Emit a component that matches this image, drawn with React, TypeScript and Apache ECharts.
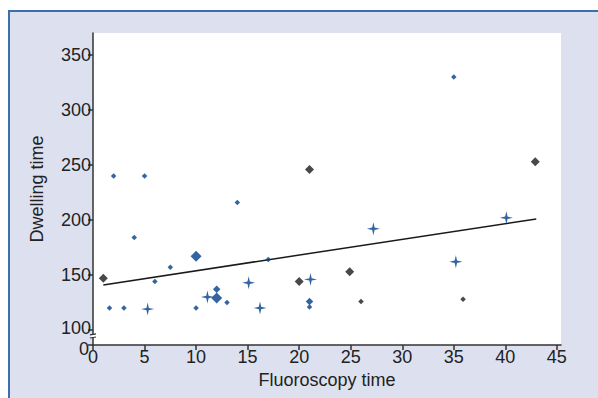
import React, { useEffect, useRef } from "react";
import * as echarts from "echarts";

const xTicks = [0, 5, 10, 15, 20, 25, 30, 35, 40, 45];
const yTicks = [100, 150, 200, 250, 300, 350];
const yBreakBase = 86.36; // drawn as "0" below the axis break
const yBreakLabels = [yBreakBase];
const yMax = 370;
const xMax = 45.4;

const blueSmall: [number, number][] = [
  [1.6, 120], [3, 120], [2, 240], [5, 240], [4, 184], [6, 144], [7.5, 157],
  [10, 120], [13, 125], [14, 216], [17, 164], [35, 330], [21, 121],
];
const blueMedium: [number, number][] = [[12, 137], [21, 126]];
const blueLarge: [number, number][] = [[10, 167], [12, 129]];
const blueCross: [number, number][] = [
  [5.3, 119], [11.1, 130], [15.1, 143], [16.2, 120], [21.1, 146],
  [27.2, 192], [35.2, 162], [40.1, 202],
];
const blackLarge: [number, number][] = [[1, 147], [20, 144], [21, 246], [24.9, 153], [42.9, 253]];
const blackSmall: [number, number][] = [[26, 126], [35.9, 128]];
const regression: [number, number][] = [[1, 141], [43, 201]];

const BLUE = "#003f8c";
const BLACK = "#1a1a1a";
const FONT = "'Liberation Sans', Arial, Helvetica, sans-serif";
const CROSS = "path://M0,-6 L1.1,-1.1 L6,0 L1.1,1.1 L0,6 L-1.1,1.1 L-6,0 L-1.1,-1.1 Z";

export default function App() {
  const ref = useRef<HTMLDivElement>(null);
  useEffect(() => {
    if (!ref.current) return;
    const chart = echarts.init(ref.current, undefined, { renderer: "svg" });
    const axisLine = { show: true, lineStyle: { color: "#333", width: 1.5 } };
    const tickStyle = { color: "#333", width: 1.5 };
    const labelBase = {
      fontFamily: FONT, fontSize: 18, color: "#222",
      interval: 0, hideOverlap: false, showMinLabel: true, showMaxLabel: true,
    };
    const richText = { fontFamily: FONT, fontSize: 18, color: "#222" };
    const scatter = (data: [number, number][], color: string, symbol: string, size: number) => ({
      type: "scatter",
      data,
      symbol,
      symbolSize: size,
      itemStyle: { color },
      z: 3,
    });
    chart.setOption({
      animation: false,
      grid: {
        left: 93, right: 37, top: 33, bottom: 53,
        show: true, backgroundColor: "#ffffff", borderWidth: 0,
      },
      xAxis: {
        type: "value",
        min: 0,
        max: xMax,
        name: "Fluoroscopy time",
        nameLocation: "middle",
        nameGap: 24,
        nameTextStyle: { fontFamily: FONT, fontSize: 18, color: "#222" },
        axisLine,
        splitLine: { show: false },
        axisTick: { show: true, length: 5, customValues: xTicks, lineStyle: tickStyle },
        axisLabel: { ...labelBase, customValues: xTicks, margin: 3 },
      },
      yAxis: [
        {
          type: "value",
          min: yBreakBase,
          max: yMax,
          name: "Dwelling time",
          nameLocation: "middle",
          nameGap: 47,
          nameTextStyle: { fontFamily: FONT, fontSize: 18, color: "#222" },
          axisLine,
          splitLine: { show: false },
          axisTick: { show: true, length: 5, customValues: yTicks, lineStyle: tickStyle },
          axisLabel: {
            ...labelBase, customValues: yTicks, margin: 2,
            formatter: (v: number) => (v === yTicks[0] ? `{low|${v}}` : String(v)),
            rich: { low: { ...richText, padding: [0, 0, 4, 0] } },
          },
        },
        {
          type: "value",
          position: "left",
          min: yBreakBase,
          max: yMax,
          axisLine: { show: false },
          splitLine: { show: false },
          axisTick: { show: true, length: 5, customValues: yBreakLabels, lineStyle: tickStyle },
          axisLabel: {
            ...labelBase, customValues: yBreakLabels, margin: 4,
            formatter: () => "{z|0}",
            rich: { z: { ...richText, padding: [8, 0, 0, 0] } },
          },
        },
      ],
      series: [
        {
          type: "line",
          data: regression,
          symbol: "none",
          lineStyle: { color: BLACK, width: 1.5 },
          z: 2,
        },
        scatter(blueSmall, BLUE, "diamond", 5.5),
        scatter(blueMedium, BLUE, "diamond", 7.5),
        scatter(blueLarge, BLUE, "diamond", 11),
        scatter(blueCross, BLUE, CROSS, 13),
        scatter(blackLarge, BLACK, "diamond", 9),
        scatter(blackSmall, BLACK, "diamond", 5.5),
      ],
    });
    const p1 = chart.convertToPixel({ xAxisIndex: 0, yAxisIndex: 0 }, [0, 96]) as number[];
    const p2 = chart.convertToPixel({ xAxisIndex: 0, yAxisIndex: 0 }, [0, 93.2]) as number[];
    chart.setOption({
      graphic: [
        { type: "rect", shape: { x: p1[0] - 2, y: p1[1], width: 4, height: p2[1] - p1[1] }, style: { fill: "#ffffff" }, z: 50 },
        { type: "line", shape: { x1: p1[0] - 3, y1: p1[1] + 0.5, x2: p1[0] + 3, y2: p1[1] - 0.5 }, style: { stroke: "#333", lineWidth: 1.2 }, z: 51 },
        { type: "line", shape: { x1: p2[0] - 3, y1: p2[1] + 0.5, x2: p2[0] + 3, y2: p2[1] - 0.5 }, style: { stroke: "#333", lineWidth: 1.2 }, z: 51 },
      ],
    });
    return () => chart.dispose();
  }, []);
  return (
    <div style={{ position: "absolute", left: 0, top: 0, width: 598, height: 398, background: "#ffffff" }}>
      <div
        style={{
          position: "absolute", left: 8, top: 10, width: 590, height: 388,
          background: "#dde1ef", borderLeft: "2px solid #3d6fae", borderTop: "2px solid #3d6fae",
          boxSizing: "border-box",
        }}
      />
      <div ref={ref} style={{ position: "absolute", left: 0, top: 0, width: 598, height: 398 }} />
    </div>
  );
}
